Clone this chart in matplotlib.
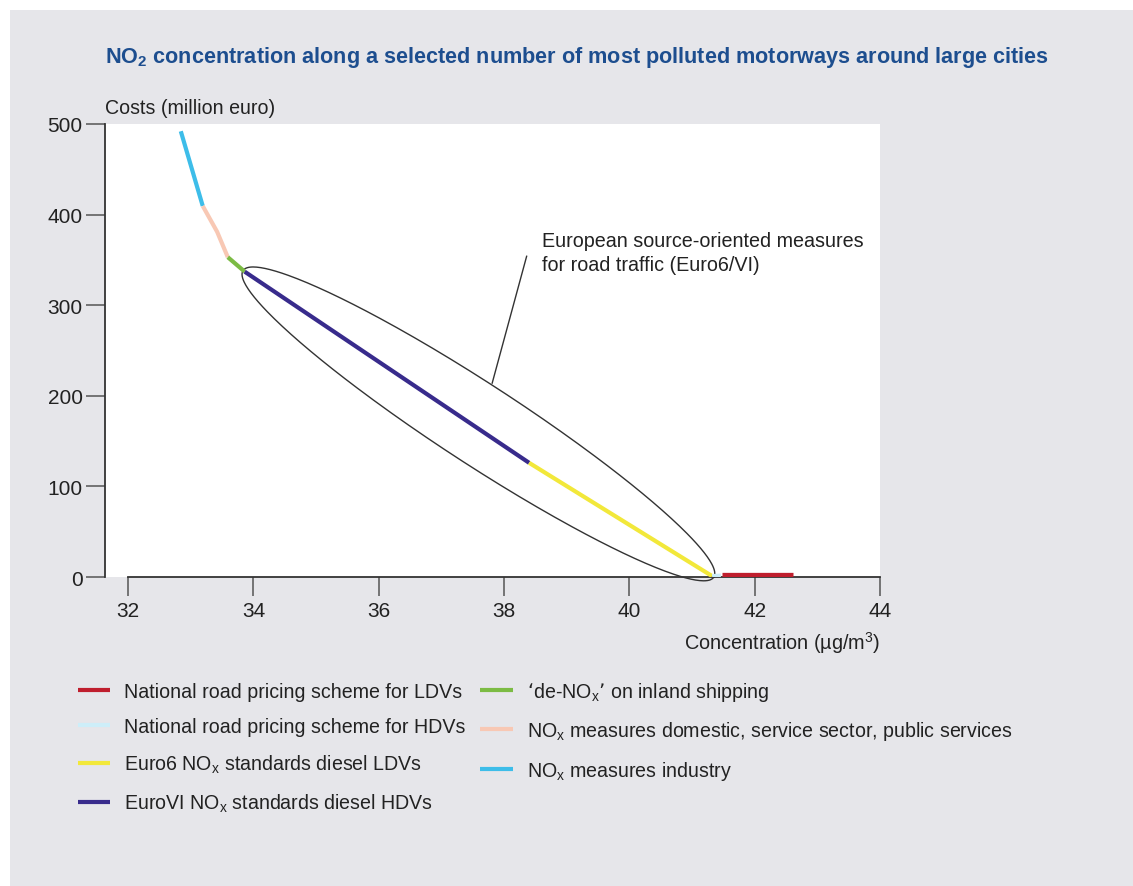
import numpy as np
import matplotlib
matplotlib.use("Agg")
import matplotlib.pyplot as plt
from matplotlib.patches import Rectangle

plt.rcParams["font.family"] = ["Liberation Sans", "DejaVu Sans"]

# Cost curve segments (concentration ug/m3, cost million euro)
LABELS = [
    "National road pricing scheme for LDVs",
    "National road pricing scheme for HDVs",
    r"Euro6 NO$_\mathregular{x}$ standards diesel LDVs",
    r"EuroVI NO$_\mathregular{x}$ standards diesel HDVs",
    r"‘de-NO$_\mathregular{x}$’ on inland shipping",
    r"NO$_\mathregular{x}$ measures domestic, service sector, public services",
    r"NO$_\mathregular{x}$ measures industry",
]
COLORS = ["#bf1e2d", "#cdeef9", "#f2e83a", "#382b8c", "#7cbb44", "#f8c8b4", "#3dbde9"]

ldv_pricing_x = [41.48, 42.61]
ldv_pricing_y = [2.2, 2.2]
hdv_pricing_x = [41.32, 41.46]
hdv_pricing_y = [1.0, 1.5]
euro6_x = [38.40, 41.32]
euro6_y = [126, 1]
eurovi_x = [33.86, 38.40]
eurovi_y = [337, 126]
denox_x = [33.59, 33.86]
denox_y = [353, 337]
domestic_x = [33.19, 33.42, 33.59]
domestic_y = [409.5, 381, 353]
industry_x = [32.84, 33.19]
industry_y = [492, 409.5]

XS = [ldv_pricing_x, hdv_pricing_x, euro6_x, eurovi_x, denox_x, domestic_x, industry_x]
YS = [ldv_pricing_y, hdv_pricing_y, euro6_y, eurovi_y, denox_y, domestic_y, industry_y]
WIDTHS = [3.8, 3.0, 3.0, 3.0, 3.0, 3.0, 3.0]

x_ticks = [32, 34, 36, 38, 40, 42, 44]
y_ticks = [0, 100, 200, 300, 400, 500]

W, H = 1133, 887
fig = plt.figure(figsize=(W / 100, H / 100), dpi=100, facecolor="white")
fig.patches.append(Rectangle((10 / W, 0), 1, 1 - 11 / H, transform=fig.transFigure,
                             facecolor="#e6e6ea", edgecolor="none", zorder=-10))

ax = fig.add_axes([105 / W, (H - 578) / H, 775 / W, 453 / H])
ax.set_facecolor("white")
ax.set_xlim(31.63, 44)
ax.set_ylim(0, 500)

# draw order: blue/peach/green first, then the traffic lines on top
for i in [6, 5, 4, 3, 2, 1, 0]:
    ax.plot(XS[i], YS[i], color=COLORS[i], lw=WIDTHS[i], solid_capstyle="butt",
            label=LABELS[i], zorder=3)

for side in ["top", "right"]:
    ax.spines[side].set_visible(False)
ax.spines["left"].set_bounds(0, 500)
ax.spines["bottom"].set_bounds(32, 44)
for side in ["left", "bottom"]:
    ax.spines[side].set_color("#333333")
    ax.spines[side].set_linewidth(1.3)

ax.set_xticks(x_ticks)
ax.set_yticks(y_ticks)
ax.tick_params(axis="both", length=14, width=1.1, color="#555555",
               labelsize=15, labelcolor="#222222", pad=3)
ax.tick_params(axis="y", pad=2)

ax.text(0, 1.015, "Costs (million euro)", transform=ax.transAxes,
        fontsize=14.1, color="#222222", ha="left", va="bottom")
ax.text(1.0, -0.115, r"Concentration (µg/m$^\mathregular{3}$)", transform=ax.transAxes,
        fontsize=14.3, color="#222222", ha="right", va="top")

# ellipse around the Euro6/VI segments, built in pixel space
fig.canvas.draw()
p1 = ax.transData.transform((eurovi_x[0], eurovi_y[0]))
p2 = ax.transData.transform((euro6_x[-1], euro6_y[-1]))
c = (p1 + p2) / 2
d = p2 - p1
a = np.hypot(*d) / 2 + 2
b = 40
u = d / np.hypot(*d)
v = np.array([-u[1], u[0]])
t = np.linspace(0, 2 * np.pi, 400)
pts = c + np.outer(a * np.cos(t), u) + np.outer(b * np.sin(t), v)
ell = ax.transData.inverted().transform(pts)
ax.plot(ell[:, 0], ell[:, 1], color="#333333", lw=1.0, zorder=2, clip_on=False)

ax.plot([37.81, 38.36], [214, 354], color="#333333", lw=1.0, zorder=2)
ax.text(38.60, 382, "European source-oriented measures\nfor road traffic (Euro6/VI)",
        fontsize=14.2, color="#222222", ha="left", va="top", linespacing=1.35)

fig.text(105 / W, 1 - 57 / H,
         r"NO$_\mathregular{2}$ concentration along a selected number of most polluted motorways around large cities",
         fontsize=15.6, fontweight="bold", color="#1d4e8f", ha="left", va="center",
         family=["Liberation Sans Narrow", "Liberation Sans", "DejaVu Sans"])

handles, labels = ax.get_legend_handles_labels()
order = [labels.index(l) for l in LABELS]
leg = fig.legend([handles[i] for i in order], [labels[i] for i in order],
                 loc="upper left", bbox_to_anchor=(60 / W, 1 - 663 / H), ncol=2,
                 frameon=False, fontsize=14.1, handlelength=1.65, handletextpad=0.72,
                 columnspacing=0.77, labelspacing=0.85, labelcolor="#222222")
for h in leg.legend_handles:
    h.set_linewidth(3.0)

fig.savefig("out.png", dpi=100, facecolor="white")
